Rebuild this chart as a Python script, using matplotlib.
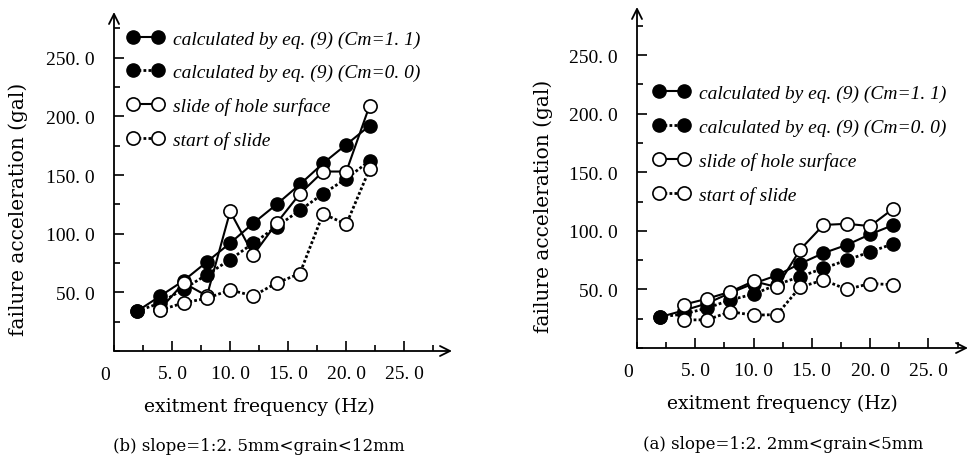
import matplotlib.pyplot as plt
from matplotlib.ticker import MultipleLocator

# data
freq = [2, 4, 6, 8, 10, 12, 14, 16, 18, 20, 22]
freq_exp = [4, 6, 8, 10, 12, 14, 16, 18, 20, 22]

# (b) slope=1:2, 5mm<grain<12mm
calc11_b = [34, 47, 60, 76, 92, 109, 125, 142, 160, 176, 192]
calc00_b = [34, 41, 53, 65, 78, 92, 106, 120, 134, 147, 162]
hole_b = [36, 58, 47, 119, 82, 109, 134, 153, 153, 209]
start_b = [35, 41, 45, 52, 47, 58, 66, 117, 108, 155]

# (a) slope=1:2, 2mm<grain<5mm
calc11_a = [26.5, 32, 38, 47, 55, 62, 72, 81, 88, 97, 105]
calc00_a = [26.5, 29, 34, 41, 46, 54, 61, 68, 75, 82, 89]
hole_a = [37, 42, 48, 57, 52, 84, 105, 106, 104, 119]
start_a = [24, 24, 31, 28, 28.5, 52, 58, 50, 55, 54]

yticks = [50, 100, 150, 200, 250]
ytick_labels = ['50. 0', '100. 0', '150. 0', '200. 0', '250. 0']
xticks = [5, 10, 15, 20, 25]
xtick_labels = ['5. 0', '10. 0', '15. 0', '20. 0', '25. 0']

labels = ['calculated by eq. (9) (Cm=1. 1)',
          'calculated by eq. (9) (Cm=0. 0)',
          'slide of hole surface',
          'start of slide']

serif = 'Liberation Serif'
wide = 'DejaVu Serif'
W, H = 970, 456

fig = plt.figure(figsize=(9.7, 4.56), dpi=100)


def make_panel(rect, xmax, ymax, c11, c00, hole, start, caption, leg_anchor):
    x0, y0, x1, y1 = rect  # pixel coords: axis origin (x0, y0), arrow ends (x1, y1)
    ax = fig.add_axes([x0 / W, 1 - y0 / H, (x1 - x0) / W, (y0 - y1) / H])
    ax.set_xlim(0, xmax)
    ax.set_ylim(0, ymax)
    for s in ax.spines.values():
        s.set_visible(False)
    for end in [(1, 0), (0, 1)]:
        ax.annotate('', xy=end, xytext=(0, 0), xycoords='axes fraction',
                    arrowprops=dict(arrowstyle='->', lw=1.3, color='black',
                                    mutation_scale=18, shrinkA=0, shrinkB=0))

    ms = 9.5
    dot = (0, (1, 0.8))
    l1, = ax.plot(freq, c11, '-', color='black', lw=1.5, marker='o', ms=ms,
                  mfc='black', mec='black', clip_on=False)
    l2, = ax.plot(freq, c00, linestyle=dot, color='black', lw=2, marker='o',
                  ms=ms, mfc='black', mec='black', clip_on=False)
    l3, = ax.plot(freq_exp, hole, '-', color='black', lw=1.5, marker='o',
                  ms=ms, mfc='white', mec='black', mew=1.2, clip_on=False)
    l4, = ax.plot(freq_exp, start, linestyle=dot, color='black', lw=2,
                  marker='o', ms=ms, mfc='white', mec='black', mew=1.2,
                  clip_on=False)

    ax.set_xticks(xticks)
    ax.set_xticklabels(xtick_labels, fontfamily=serif, fontsize=14)
    ax.xaxis.set_minor_locator(MultipleLocator(2.5))
    ax.set_yticks(yticks)
    ax.set_yticklabels(ytick_labels, fontfamily=serif, fontsize=14)
    ax.yaxis.set_minor_locator(MultipleLocator(25))
    ax.tick_params(which='major', direction='in', length=7, width=1.2, pad=10)
    ax.tick_params(which='minor', direction='in', length=4, width=1.2)
    ax.tick_params(axis='y', which='major', pad=14)
    ax.annotate('0', xy=(-0.8, 0), xycoords='data', xytext=(0, -11),
                textcoords='offset points', fontfamily=serif, fontsize=14,
                ha='center', va='top', annotation_clip=False)
    ax.set_xlabel('exitment frequency (Hz)', fontfamily=wide, fontsize=13.5)
    ax.xaxis.set_label_coords(12.5 / xmax, -0.135)
    ax.set_ylabel('failure acceleration (gal)', fontfamily=wide, fontsize=14.5)
    ax.yaxis.set_label_coords(-0.255, 122 / ymax)
    ax.text(12.5 / xmax, -0.255, caption, transform=ax.transAxes,
            fontfamily=wide, fontsize=12, ha='center', va='top')

    ax.legend([l1, l2, l3, l4], labels, loc='upper left',
              bbox_to_anchor=leg_anchor, frameon=False, numpoints=2,
              handlelength=1.9, handletextpad=0.45, labelspacing=0.82,
              borderaxespad=0,
              prop=dict(family=serif, style='italic', size=14))
    return ax


make_panel((114, 352, 452, 13), 29.1, 289, calc11_b, calc00_b, hole_b,
           start_b, '(b) slope=1:2. 5mm<grain<12mm', (0.015, 0.97))
make_panel((637, 349, 968, 8), 28.4, 291, calc11_a, calc00_a, hole_a,
           start_a, '(a) slope=1:2. 2mm<grain<5mm', (0.025, 0.795))

fig.savefig('out.png', dpi=100)
